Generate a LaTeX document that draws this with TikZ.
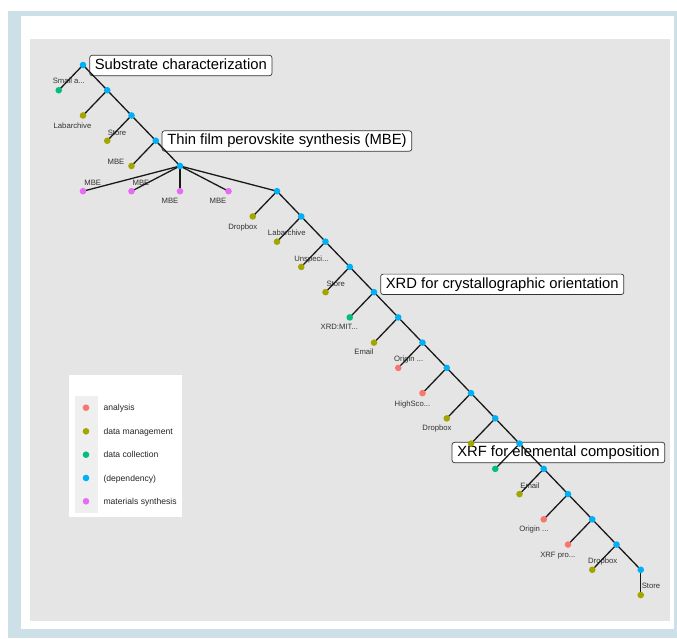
\documentclass[tikz,border=0pt]{standalone}
\usepackage{fontspec}
\setmainfont{Liberation Sans}
\definecolor{cred}{HTML}{F8766D}
\definecolor{colive}{HTML}{A3A500}
\definecolor{cgreen}{HTML}{00BF7D}
\definecolor{cblue}{HTML}{00B0F6}
\definecolor{cmag}{HTML}{E76BF3}
\definecolor{framecol}{HTML}{CDDFE7}
\definecolor{panelcol}{HTML}{E5E5E5}
\definecolor{keycol}{HTML}{EFEFEF}
\begin{document}
\begin{tikzpicture}[x=1pt,y=-1pt,
  dot/.style={circle, fill=#1, draw=none, inner sep=0pt, minimum size=6.6pt},
  link/.style={line width=1.3pt, black!90},
  lbl/.style={font=\fontsize{7.7}{8}\selectfont, text=black!80, inner sep=0pt, text height=5.5pt, text depth=0pt, anchor=center},
  biglbl/.style={draw=black!80, fill=white, rounded corners=2.5pt, line width=0.7pt,
    font=\fontsize{14.8}{16}\selectfont, anchor=west, inner xsep=5.2pt, inner ysep=0pt,
    minimum height=20.4pt, text height=10.7pt, text depth=3pt},
  legtxt/.style={font=\fontsize{8.6}{9}\selectfont, text=black!85, inner sep=0pt, anchor=west, text height=6.2pt, text depth=0pt}]
\useasboundingbox (0,0) rectangle (677,638);
\fill[white] (0,0) rectangle (677,638);
\fill[framecol] (8,11) rectangle (677,638);
\fill[white] (21,16) rectangle (674,629);
\fill[panelcol] (30,39) rectangle (670,621);

% dependency coordinates (grid: x = 83 + 24.25 X, y = 65 + 25.24 L)
\foreach \n/\X/\L in {d0/0/0,d1/1/1,d2/2/2,d3/3/3,d4/4/4,d5/8/5,d6/9/6,d7/10/7,d8/11/8,d9/12/9,d10/13/10,d11/14/11,d12/15/12,d13/16/13,d14/17/14,d15/18/15,d16/19/16,d17/20/17,d18/21/18,d19/22/19,d20/23/20,
  l1/-1/1,l2/0/2,l3/1/3,l4/2/4,m1/0/5,m2/2/5,m3/4/5,m4/6/5,l6/7/6,l7/8/7,l8/9/8,l9/10/9,l10/11/10,l11/12/11,l12/13/12,l13/14/13,l14/15/14,l15/16/15,l16/17/16,l17/18/17,l18/19/18,l19/20/19,l20/21/20,l21/23/21}
  {\coordinate (\n) at ({83+24.25*\X},{65+25.24*\L});}

% step label boxes
\node[biglbl] (b1) at (89.3,65.5) {Substrate characterization};
\node[biglbl] (b2) at (161.7,141) {Thin film perovskite synthesis (MBE)};
\node[biglbl] (b3) at (380.3,284.3) {XRD for crystallographic orientation};
\node[biglbl] (b4) at (451.7,452.5) {XRF for elemental composition};

% leaf texts
\node[lbl] (t1) at (68.8,81) {Small a...};
\node[lbl] (t2) at (72.5,125.3) {Labarchive};
\node[lbl] (t3) at (117,132.3) {Store};
\node[lbl] (t4) at (116,161.3) {MBE};
\node[lbl] (tm1) at (92.7,182.3) {MBE};
\node[lbl] (tm2) at (141,182.5) {MBE};
\node[lbl] (tm3) at (170,201) {MBE};
\node[lbl] (tm4) at (218,201) {MBE};
\node[lbl] (t6) at (242.8,226.3) {Dropbox};
\node[lbl] (t7) at (286.8,233) {Labarchive};
\node[lbl] (t8) at (311.5,258.3) {Unspeci...};
\node[lbl] (t9) at (335.7,283.7) {Store};
\node[lbl] (t10) at (339.3,327) {XRD:MIT...};
\node[lbl] (t11) at (364,352) {Email};
\node[lbl] (t12) at (408.7,359) {Origin ...};
\node[lbl] (t13) at (412.5,403.3) {HighSco...};
\node[lbl] (t14) at (437,427.7) {Dropbox};
\node[lbl] (t17) at (530,485.3) {Email};
\node[lbl] (t18) at (534,529) {Origin ...};
\node[lbl] (t19) at (557.8,554.7) {XRF pro...};
\node[lbl] (t20) at (602.7,561) {Dropbox};
\node[lbl] (t21) at (651,586) {Store};

% connectors
\foreach \i [count=\j from 1] in {0,...,19} {\draw[link] (d\i) -- (d\j);}
\foreach \p/\c in {d0/l1,d1/l2,d2/l3,d3/l4,d4/m1,d4/m2,d4/m3,d4/m4,d5/l6,d6/l7,d7/l8,d8/l9,d9/l10,d10/l11,d11/l12,d12/l13,d13/l14,d14/l15,d15/l16,d16/l17,d17/l18,d18/l19,d19/l20,d20/l21}
  {\draw[link] (\p) -- (\c);}

% dots
\foreach \i in {0,...,20} {\node[dot=cblue] (d\i dot) at (d\i) {};}
\foreach \n/\c in {l1/cgreen,l2/colive,l3/colive,l4/colive,m1/cmag,m2/cmag,m3/cmag,m4/cmag,l6/colive,l7/colive,l8/colive,l9/colive,l10/cgreen,l11/colive,l12/cred,l13/cred,l14/colive,l15/colive,l16/cgreen,l17/colive,l18/cred,l19/cred,l20/colive,l21/colive}
  {\node[dot=\c] (\n dot) at (\n) {};}

% legend
\fill[white] (69,375) rectangle (182,516.7);
\fill[keycol] (74.7,396) rectangle (97.7,512.7);
\node[dot=cred] (k1) at (86,407.7) {};
\node[dot=colive] (k2) at (86,431.3) {};
\node[dot=cgreen] (k3) at (86,454.7) {};
\node[dot=cblue] (k4) at (86,478) {};
\node[dot=cmag] (k5) at (86,501.3) {};
\node[legtxt] (kt1) at (103.3,407.7) {analysis};
\node[legtxt] (kt2) at (103.3,431.3) {data management};
\node[legtxt] (kt3) at (103.3,454.7) {data collection};
\node[legtxt] (kt4) at (103.3,478) {(dependency)};
\node[legtxt] (kt5) at (103.3,501.3) {materials synthesis};
\end{tikzpicture}
\end{document}
